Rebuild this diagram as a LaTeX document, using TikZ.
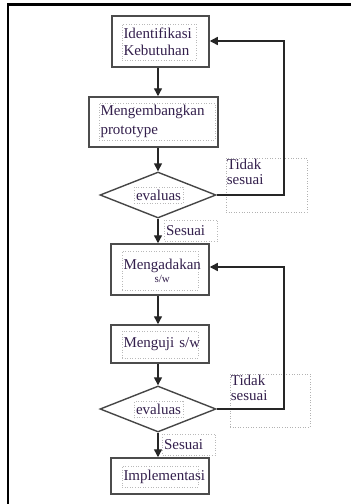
\documentclass[tikz,border=0pt]{standalone}
\usepackage{fontspec}
\setmainfont{Liberation Serif}
\usetikzlibrary{arrows.meta,shapes.geometric,calc}
\definecolor{txtcol}{rgb}{0.2,0.12,0.3}
\definecolor{edgecol}{gray}{0.3}

\begin{document}
\begin{tikzpicture}[x=1pt,y=-1pt,
  box/.style={draw=edgecol,line width=1.5pt,inner sep=0pt},
  lbl/.style={draw=gray!55,dotted,line width=0.6pt,text=txtcol,inner sep=1.5pt,
    font=\fontsize{15}{17}\selectfont},
  dia/.style={draw=gray!55!black,line width=1.4pt,diamond,inner sep=0pt,
    minimum width=116pt,minimum height=46pt},
  note/.style={draw=gray!60,dotted,line width=0.6pt,inner sep=0pt},
  arr/.style={-{Triangle[length=8pt,width=8pt]},line width=1.4pt,black!85}]
  \useasboundingbox (0,0) rectangle (351,504);
  \draw[line width=2.7pt] (8,504) -- (8,4.5) -- (351,4.5);

  \node[box,minimum width=97pt,minimum height=51pt] (b1) at (160.5,41.5) {};
  \node[lbl,text width=71pt,minimum height=36pt,align=left] (t1) at (159,42)
    {Identifikasi\\Kebutuhan};

  \node[box,minimum width=129pt,minimum height=50pt] (b2) at (153.5,122) {};
  \node[lbl,text width=113pt,minimum height=37pt,align=left,
    font=\fontsize{15}{19}\selectfont] (t2) at (157,121.5)
    {Mengembangkan\\prototype};

  \node[dia] (d1) at (158,195) {};
  \node[lbl,minimum width=49pt,minimum height=16pt,inner sep=0.5pt] (e1) at (158.5,195) {evaluas};

  \node[note,minimum width=81pt,minimum height=54pt] (n1) at (266.5,185) {};
  \node[anchor=north west,text=txtcol,inner sep=1pt,align=left,
    font=\fontsize{15}{15}\selectfont] (n1t) at (n1.north west) {Tidak\\sesuai};

  \node[lbl,text width=50pt,minimum height=21pt,align=left] (s1) at (191,230.5) {Sesuai};

  \node[box,minimum width=98pt,minimum height=51pt] (b3) at (160,269.5) {};
  \node[lbl,text width=73pt,minimum height=39pt,align=left,
    font=\fontsize{15}{13}\selectfont] (t3) at (160,270.5)
    {\mbox{Mengadakan}\\\hspace*{31pt}{\fontsize{11}{13}\selectfont s/w}};

  \node[box,minimum width=98pt,minimum height=38pt] (b4) at (160,344) {};
  \node[lbl,text width=73pt,minimum height=27pt,align=left] (t4) at (160,344.5) {\mbox{Menguji s/w}};

  \node[dia] (d2) at (158,409) {};
  \node[lbl,minimum width=49pt,minimum height=16pt,inner sep=0.5pt] (e2) at (158.5,409.5) {evaluas};

  \node[note,minimum width=80pt,minimum height=53pt] (n2) at (270,400.5) {};
  \node[anchor=north west,text=txtcol,inner sep=1pt,align=left,
    font=\fontsize{15}{15}\selectfont] (n2t) at (n2.north west) {Tidak\\sesuai};

  \node[lbl,text width=50pt,minimum height=21pt,align=left] (s2) at (189,444.5) {Sesuai};

  \node[box,minimum width=98pt,minimum height=36pt] (b5) at (160,476) {};
  \node[lbl,text width=73pt,minimum height=21pt,align=left] (t6) at (160,476.5) {\mbox{Implementasi}};

  \draw[arr] (b1.south -| d1.center) -- (b2.north -| d1.center);
  \draw[arr] (b2.south -| d1.center) -- (d1.north);
  \draw[arr] (d1.south) -- (b3.north -| d1.center);
  \draw[arr] (b3.south -| d1.center) -- (b4.north -| d1.center);
  \draw[arr] (b4.south -| d1.center) -- (d2.north);
  \draw[arr] (d2.south) -- (b5.north -| d2.center);

  \coordinate (r1) at (284,41);
  \coordinate (r2) at (284,267);
  \draw[arr] (d1.east) -| (r1) -- (b1.east |- r1);
  \draw[arr] (d2.east) -| (r2) -- (b3.east |- r2);
\end{tikzpicture}
\end{document}
